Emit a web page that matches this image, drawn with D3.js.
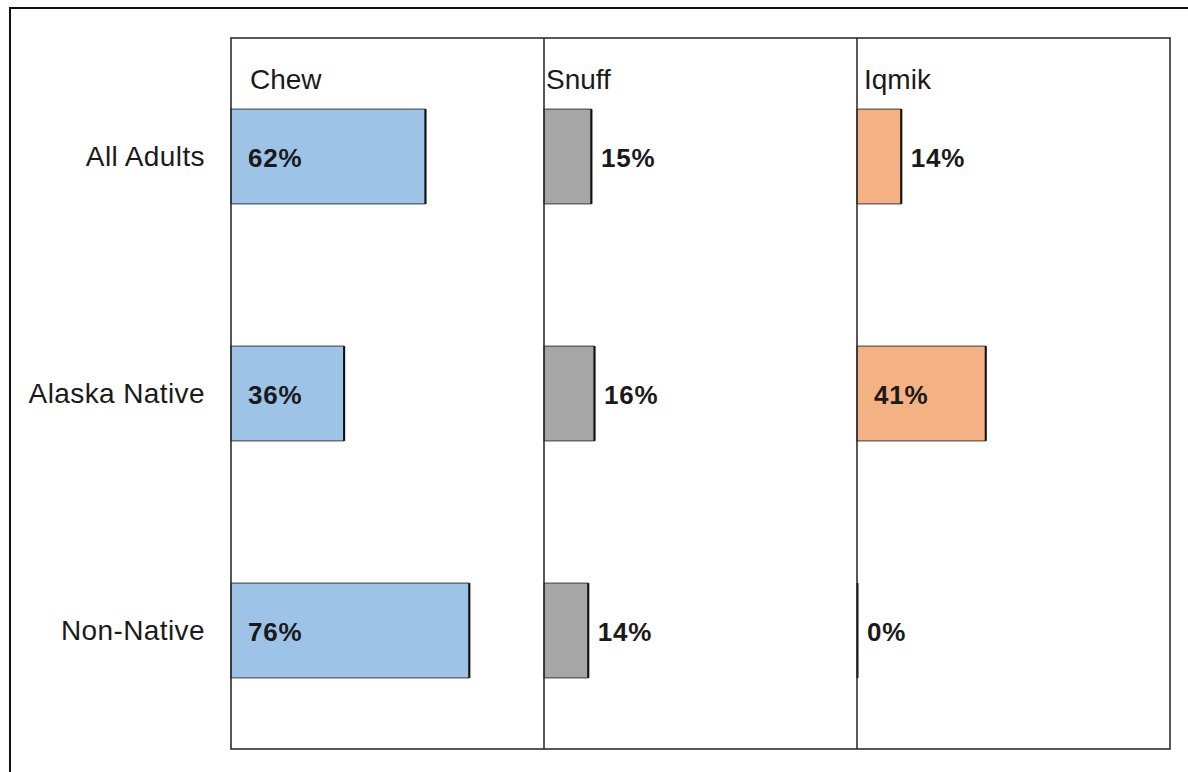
<!DOCTYPE html>
<html>
<head>
<meta charset="utf-8">
<script src="https://cdn.jsdelivr.net/npm/d3@7"></script>
<style>
  html, body { margin: 0; padding: 0; background: #fff; }
  svg { display: block; font-family: "Liberation Sans", Arial, sans-serif; }
  .row-label { font-size: 28px; letter-spacing: 0.4px; fill: #1a1a1a; }
  .panel-title { font-size: 28px; fill: #1a1a1a; }
  .value-label { font-size: 26px; font-weight: bold; letter-spacing: 0.8px; fill: #1a1a1a; }
</style>
</head>
<body>
<div id="chart"></div>
<script>
// =====================
// Data
// =====================
const groups = ["All Adults", "Alaska Native", "Non-Native"];
const products = ["Chew", "Snuff", "Iqmik"];
const chewValues = [62, 36, 76];
const snuffValues = [15, 16, 14];
const iqmikValues = [14, 41, 0];
const seriesValues = [chewValues, snuffValues, iqmikValues];
const colors = ["#9dc3e6", "#a6a6a6", "#f4b183"];

// =====================
// Layout
// =====================
const width = 1188, height = 772;
const frame = { left: 231, top: 38, right: 1170, bottom: 749 };
const panelWidth = (frame.right - frame.left) / products.length;

const svg = d3.select("#chart").append("svg")
  .attr("width", width)
  .attr("height", height);

// outer border (runs off the right and bottom edge)
svg.append("rect")
  .attr("x", 10).attr("y", 8)
  .attr("width", width + 20).attr("height", height + 20)
  .attr("fill", "none")
  .attr("stroke", "#111")
  .attr("stroke-width", 2);

const panelX = d3.scaleBand()
  .domain(products)
  .range([frame.left, frame.right]);

const y = d3.scaleBand()
  .domain(groups)
  .range([frame.top, frame.bottom])
  .paddingInner(0.6)
  .paddingOuter(0.3);

const x = d3.scaleLinear()
  .domain([0, 100])
  .range([0, panelWidth]);

// row labels
svg.selectAll(".row-label")
  .data(groups)
  .enter()
  .append("text")
  .attr("class", "row-label")
  .attr("x", frame.left - 26)
  .attr("y", d => y(d) + y.bandwidth() / 2 + 9)
  .attr("text-anchor", "end")
  .text(d => d);

// panels
products.forEach((product, pi) => {
  const px = panelX(product);
  const g = svg.append("g").attr("transform", `translate(${px},0)`);

  const rows = groups.map((grp, i) => ({ group: grp, value: seriesValues[pi][i] }));

  g.selectAll(".bar")
    .data(rows)
    .enter()
    .append("rect")
    .attr("class", "bar")
    .attr("x", 0)
    .attr("y", d => y(d.group))
    .attr("width", d => x(d.value))
    .attr("height", y.bandwidth())
    .attr("fill", colors[pi])
    .attr("stroke", d => d.value > 0 ? "#3a3a3a" : "none")
    .attr("stroke-width", 1);

  // darker right edge of each bar
  g.selectAll(".bar-edge")
    .data(rows)
    .enter()
    .append("line")
    .attr("x1", d => x(d.value) + 0.5)
    .attr("x2", d => x(d.value) + 0.5)
    .attr("y1", d => y(d.group))
    .attr("y2", d => y(d.group) + y.bandwidth())
    .attr("stroke", "#111")
    .attr("stroke-width", 2);

  g.selectAll(".value-label")
    .data(rows)
    .enter()
    .append("text")
    .attr("class", "value-label")
    .attr("x", d => d.value >= 30 ? 17 : x(d.value) + 10)
    .attr("y", d => y(d.group) + y.bandwidth() / 2 + 10)
    .text(d => d.value + "%");

  svg.append("text")
    .attr("class", "panel-title")
    .attr("x", px + (pi === 0 ? 19 : pi === 1 ? 2 : 7))
    .attr("y", 89)
    .text(product);
});

// panel frame and dividers
svg.append("rect")
  .attr("x", frame.left).attr("y", frame.top)
  .attr("width", frame.right - frame.left)
  .attr("height", frame.bottom - frame.top)
  .attr("fill", "none")
  .attr("stroke", "#222")
  .attr("stroke-width", 1.5);

svg.selectAll(".divider")
  .data(products.slice(1))
  .enter()
  .append("line")
  .attr("x1", d => panelX(d)).attr("x2", d => panelX(d))
  .attr("y1", frame.top).attr("y2", frame.bottom)
  .attr("stroke", "#222")
  .attr("stroke-width", 1.5);
</script>
</body>
</html>
